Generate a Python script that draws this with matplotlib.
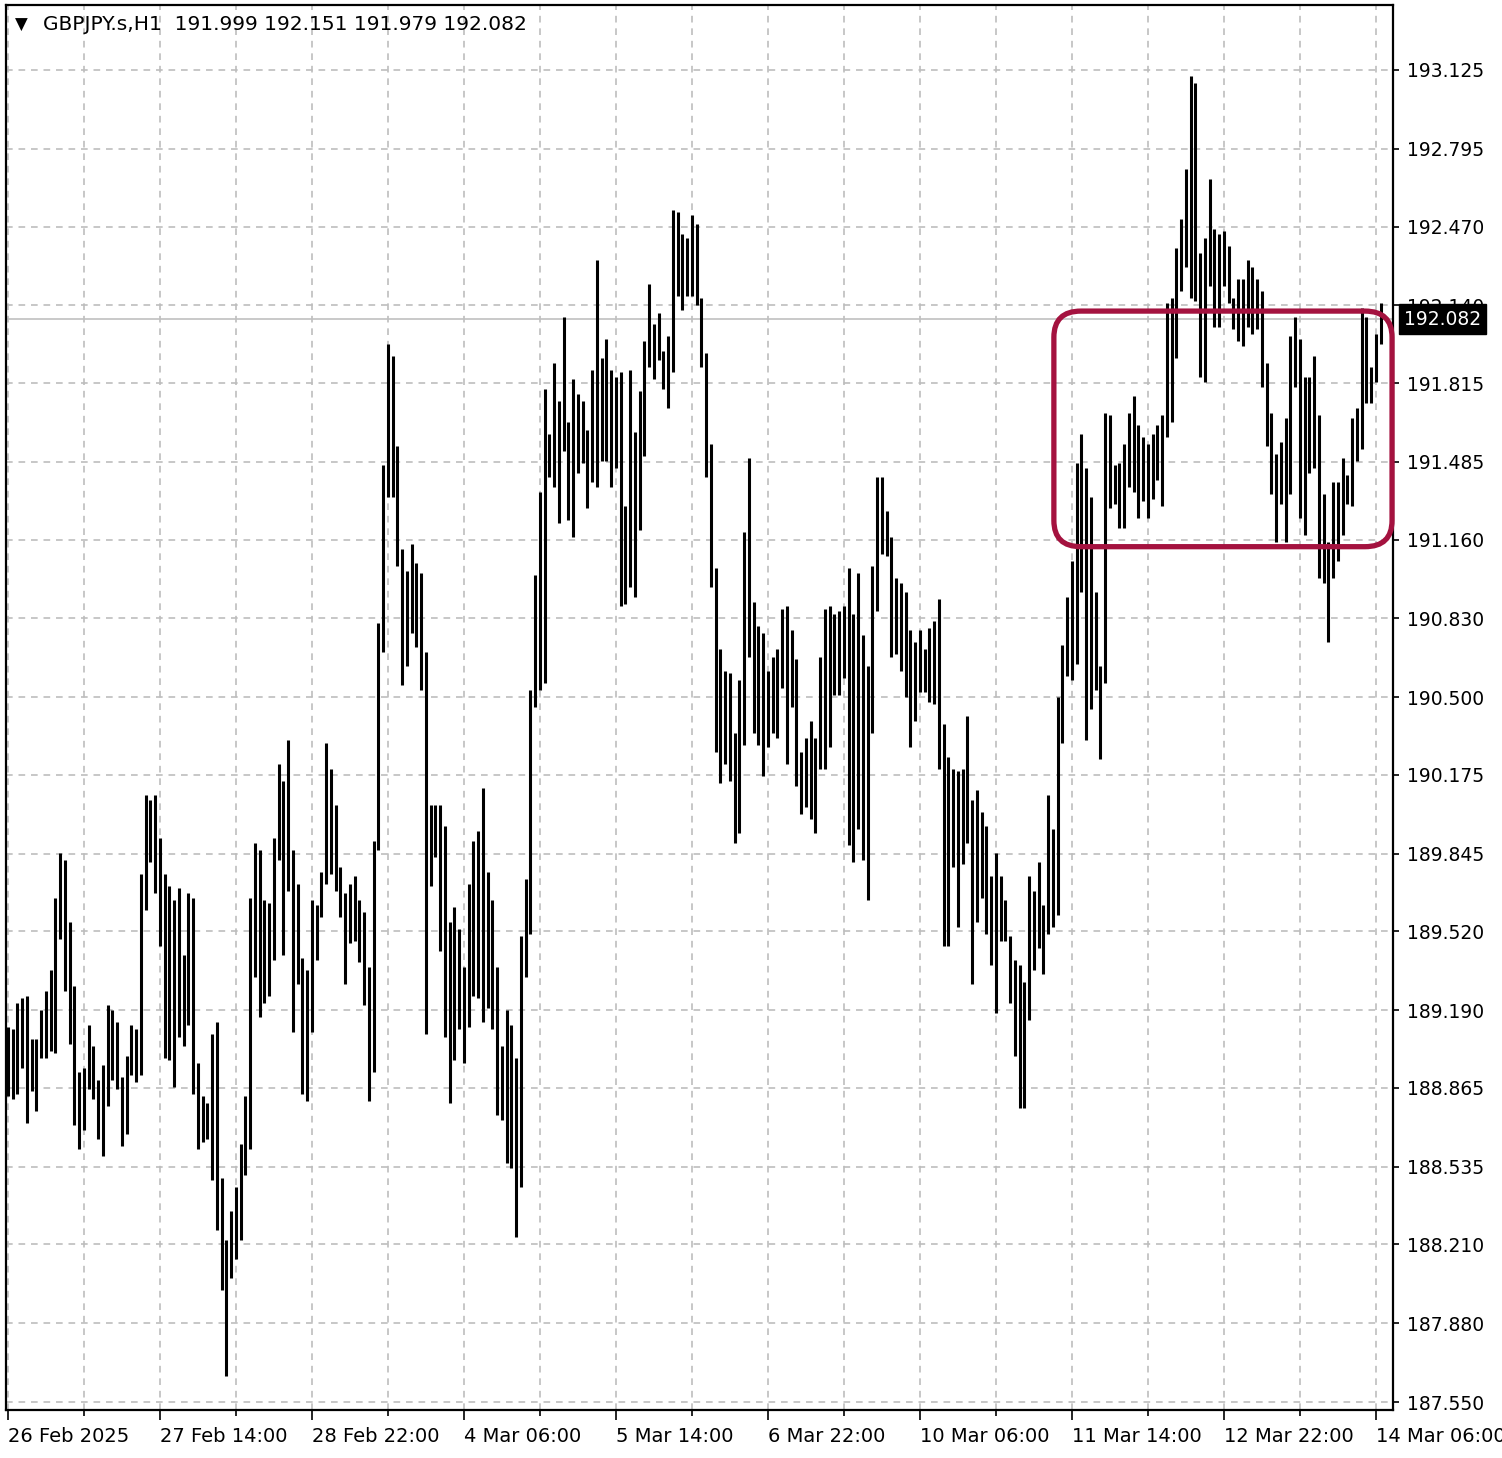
import matplotlib.pyplot as plt
from matplotlib.patches import FancyBboxPatch
from matplotlib.transforms import blended_transform_factory

# GBPJPY H1 bars: high / low per hour
highs = [
    189.12, 189.11, 189.22, 189.24, 189.25, 189.07, 189.07, 189.19, 189.27, 189.36,
    189.66, 189.85, 189.82, 189.56, 189.29, 188.93, 188.95, 189.13, 189.04, 188.90,
    188.96, 189.21, 189.19, 189.14, 188.91, 189.00, 189.13, 189.11, 189.76, 190.09,
    190.07, 190.09, 189.91, 189.76, 189.71, 189.65, 189.70, 189.42, 189.68, 189.66,
    188.97, 188.83, 188.80, 189.09, 189.14, 188.49, 188.23, 188.35, 188.45, 188.63,
    188.83, 189.66, 189.89, 189.86, 189.65, 189.64, 189.91, 190.22, 190.15, 190.32,
    189.86, 189.72, 189.41, 189.36, 189.65, 189.63, 189.77, 190.31, 190.20, 190.05,
    189.79, 189.68, 189.72, 189.75, 189.65, 189.60, 189.37, 189.90, 190.81, 191.47,
    191.98, 191.93, 191.55, 191.12, 191.03, 191.14, 191.06, 191.02, 190.69, 190.05,
    190.05, 190.05, 189.96, 189.56, 189.62, 189.53, 189.37, 189.72, 189.90, 189.94,
    190.12, 189.77, 189.65, 189.37, 189.04, 189.19, 189.13, 188.99, 189.50, 189.74,
    190.53, 191.01, 191.36, 191.79, 191.60, 191.90, 191.74, 192.09, 191.65, 191.83,
    191.77, 191.74, 191.62, 191.87, 192.33, 191.92, 192.00, 191.87, 191.84, 191.86,
    191.30, 191.87, 191.61, 191.78, 191.99, 192.23, 192.06, 192.11, 191.95, 192.01,
    192.54, 192.53, 192.44, 192.42, 192.52, 192.48, 192.17, 191.94, 191.56, 191.04,
    190.70, 190.61, 190.60, 190.35, 190.57, 191.19, 191.50, 190.90, 190.80, 190.77,
    190.61, 190.67, 190.70, 190.87, 190.88, 190.78, 190.66, 190.27, 190.33, 190.40,
    190.33, 190.67, 190.87, 190.88, 190.85, 190.86, 190.88, 191.04, 190.85, 191.02,
    190.76, 190.63, 191.05, 191.42, 191.42, 191.28, 191.17, 191.00, 190.98, 190.94,
    190.78, 190.73, 190.78, 190.70, 190.79, 190.82, 190.91, 190.39, 190.25, 190.20,
    190.19, 190.20, 190.42, 190.07, 190.11, 190.02, 189.96, 189.75, 189.85, 189.75,
    189.65, 189.50, 189.40, 189.38, 189.31, 189.75, 189.69, 189.81, 189.63, 190.09,
    189.95, 190.50, 190.72, 190.92, 191.07, 191.48, 191.60, 191.46, 191.34, 190.94,
    190.63, 191.69, 191.68, 191.47, 191.48, 191.56, 191.69, 191.76, 191.64, 191.59,
    191.56, 191.60, 191.64, 191.68, 192.15, 192.17, 192.38, 192.50, 192.71, 193.10,
    193.07, 192.36, 192.42, 192.67, 192.46, 192.44, 192.45, 192.39, 192.17, 192.25,
    192.25, 192.33, 192.30, 192.25, 192.20, 191.90, 191.69, 191.52, 191.57, 191.67,
    192.01, 192.09, 192.00, 191.84, 191.84, 191.93, 191.68, 191.35, 191.15, 191.40,
    191.40, 191.50, 191.43, 191.67, 191.71, 192.13, 192.09, 191.88, 192.02, 192.151,
]
lows = [
    188.83, 188.82, 188.84, 188.95, 188.72, 188.85, 188.77, 188.99, 188.99, 189.02,
    189.01, 189.49, 189.27, 189.05, 188.71, 188.61, 188.69, 188.86, 188.82, 188.65,
    188.58, 188.79, 188.90, 188.86, 188.62, 188.67, 188.92, 188.89, 188.92, 189.61,
    189.81, 189.68, 189.46, 188.99, 188.98, 188.87, 189.08, 189.04, 189.13, 188.84,
    188.61, 188.64, 188.65, 188.48, 188.27, 188.02, 187.66, 188.07, 188.15, 188.23,
    188.50, 188.61, 189.33, 189.16, 189.22, 189.25, 189.40, 189.82, 189.42, 189.69,
    189.10, 189.30, 188.84, 188.81, 189.10, 189.40, 189.58, 189.72, 189.76, 189.69,
    189.58, 189.30, 189.47, 189.48, 189.39, 189.21, 188.81, 188.93, 189.86, 190.69,
    191.34, 191.34, 191.05, 190.55, 190.63, 190.77, 190.71, 190.53, 189.09, 189.71,
    189.83, 189.44, 189.08, 188.80, 188.98, 189.11, 188.97, 189.12, 189.25, 189.24,
    189.14, 189.20, 189.11, 188.75, 188.73, 188.55, 188.53, 188.24, 188.45, 189.33,
    189.51, 190.46, 190.53, 190.56, 191.42, 191.38, 191.23, 191.53, 191.24, 191.17,
    191.44, 191.48, 191.29, 191.40, 191.38, 191.49, 191.49, 191.38, 191.46, 190.88,
    190.89, 190.96, 190.92, 191.20, 191.51, 191.88, 191.83, 191.91, 191.79, 191.71,
    191.86, 192.18, 192.12, 192.18, 192.18, 192.14, 191.88, 191.42, 190.96, 190.27,
    190.14, 190.22, 190.15, 189.89, 189.93, 190.30, 190.67, 190.35, 190.30, 190.17,
    190.29, 190.35, 190.33, 190.54, 190.22, 190.46, 190.13, 190.01, 190.04, 189.99,
    189.93, 190.20, 190.20, 190.29, 190.51, 190.51, 190.58, 189.88, 189.81, 189.95,
    189.82, 189.65, 190.35, 190.86, 191.10, 191.09, 190.67, 190.68, 190.61, 190.50,
    190.29, 190.40, 190.52, 190.52, 190.48, 190.47, 190.20, 189.46, 189.46, 189.79,
    189.54, 189.80, 189.89, 189.30, 189.56, 189.66, 189.51, 189.38, 189.18, 189.48,
    189.48, 189.22, 189.00, 188.78, 188.78, 189.15, 189.36, 189.45, 189.34, 189.51,
    189.54, 189.59, 190.31, 190.59, 190.57, 190.64, 190.94, 190.32, 190.45, 190.53,
    190.24, 190.56, 191.29, 191.31, 191.21, 191.21, 191.38, 191.36, 191.25, 191.32,
    191.25, 191.33, 191.41, 191.30, 191.59, 191.65, 191.92, 192.20, 192.30, 192.17,
    192.16, 191.84, 191.82, 192.22, 192.05, 192.05, 192.22, 192.15, 192.04, 191.99,
    191.97, 192.05, 192.02, 192.04, 191.80, 191.55, 191.35, 191.15, 191.31, 191.15,
    191.35, 191.80, 191.25, 191.18, 191.44, 191.46, 191.00, 190.98, 190.73, 191.00,
    191.07, 191.18, 191.31, 191.30, 191.49, 191.54, 191.73, 191.73, 191.82, 191.979,
]

date_labels = ['26 Feb 2025', '27 Feb 14:00', '28 Feb 22:00', '4 Mar 06:00', '5 Mar 14:00',
               '6 Mar 22:00', '10 Mar 06:00', '11 Mar 14:00', '12 Mar 22:00', '14 Mar 06:00']
price_ticks = [187.550, 187.880, 188.210, 188.535, 188.865, 189.190, 189.520, 189.845, 190.175,
               190.500, 190.830, 191.160, 191.485, 191.815, 192.140, 192.470, 192.795, 193.125]

symbol = 'GBPJPY.s,H1'
last_ohlc = [191.999, 192.151, 191.979, 192.082]

# highlighted consolidation zone (bar index range, price range)
zone_bars = [220.2, 291.4]
zone_prices = [191.13, 192.116]

W, H = 1502, 1458
fig = plt.figure(figsize=(W / 100, H / 100), dpi=100)
ax = fig.add_axes([6 / W, 48 / H, 1387 / W, 1405 / H])

x = list(range(len(highs)))
ax.vlines(x, lows, highs, color='black', lw=2.2, zorder=3)

ax.set_xlim(-0.42, 291.6)
ax.set_ylim(187.517, 193.397)

grid_kw = dict(color='#bdbdbd', linestyle=(0, (4, 3.5)), lw=1.2)
ax.set_xticks(range(0, 289, 32))
ax.set_xticks(range(16, 289, 32), minor=True)
ax.set_xticklabels(date_labels, fontsize=14)
for lab in ax.get_xticklabels():
    lab.set_horizontalalignment('left')
ax.set_yticks(price_ticks)
ax.set_yticklabels(['%.3f' % p for p in price_ticks], fontsize=13.5)
ax.yaxis.tick_right()
ax.grid(True, which='both', axis='x', **grid_kw)
ax.grid(True, which='major', axis='y', **grid_kw)
ax.set_axisbelow(True)

ax.tick_params(axis='x', which='major', length=7, width=1.2, pad=5, direction='out')
ax.tick_params(axis='x', which='minor', length=4, width=1.2, direction='out')
ax.tick_params(axis='y', length=4, width=1.2, pad=6, direction='out')
for s in ax.spines.values():
    s.set_linewidth(1.6)
    s.set_color('black')

# current price line and label
close = last_ohlc[3]
ax.axhline(close, color='#c0c0c0', lw=1.2, zorder=2)
trans = blended_transform_factory(ax.transAxes, ax.transData)
ax.text(1.0 + 11 / 1387, close, '%.3f' % close, transform=trans, color='white',
        fontsize=13.5, va='center', ha='left', zorder=10, clip_on=False,
        bbox=dict(boxstyle='square,pad=0.28', fc='black', ec='black'))

# header
fig.text(15 / W, 1 - 25 / H, '\u25bc', fontsize=12, va='center', ha='left')
fig.text(43 / W, 1 - 25 / H,
         symbol + '  ' + ' '.join('%.3f' % v for v in last_ohlc),
         fontsize=14.5, va='center', ha='left')

# highlight box
fig.canvas.draw()
p0 = ax.transData.transform((zone_bars[0], zone_prices[0]))
p1 = ax.transData.transform((zone_bars[1], zone_prices[1]))
f0 = fig.transFigure.inverted().transform(p0)
f1 = fig.transFigure.inverted().transform(p1)
box = FancyBboxPatch((f0[0], f0[1]), f1[0] - f0[0], f1[1] - f0[1],
                     boxstyle='round,pad=0,rounding_size=0.018',
                     transform=fig.transFigure, fill=False,
                     ec='#a4123f', lw=3.8, zorder=20)
fig.add_artist(box)

fig.savefig('out.png', dpi=100)
